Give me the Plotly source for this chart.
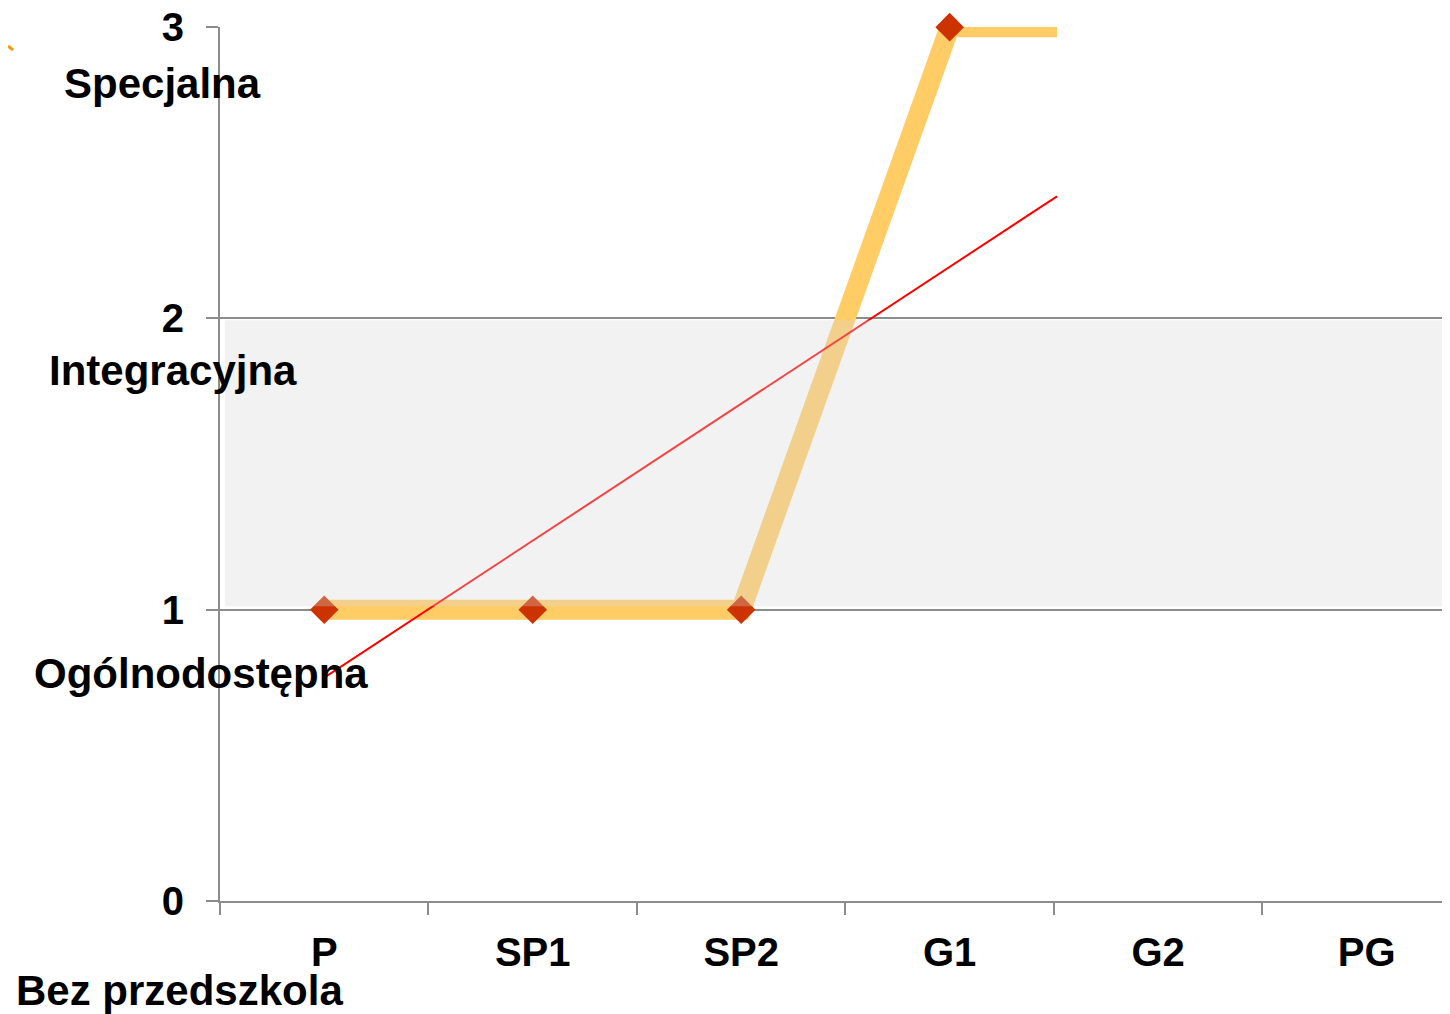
import numpy as np
import plotly.graph_objects as go

# ---- data ----
categories = ["P", "SP1", "SP2", "G1", "G2", "PG"]
levels = [1, 1, 1, 3, 3, None]            # school type level per stage (PG unknown)
level_ticks = [0, 1, 2, 3]
level_names = ["Bez przedszkola", "Ogólnodostępna", "Integracyjna", "Specjalna"]
trend_cats = ["P", "G2"]
trend_vals = [0.767, 2.647]
reveal_until = 3.515                      # series shown up to this category position

# ---- styling ----
GRID = "#8c8c8c"
FONT = "Liberation Sans, Arial, sans-serif"
X_RANGE = [-0.5, 5.4]
Y_RANGE = [0, 3.0005]
PAGE_OFF = 8          # default body margin of the html page
W, H = 1450 - PAGE_OFF, 1014 - PAGE_OFF
L, T, B = 220 - PAGE_OFF, 27 - PAGE_OFF, 1014 - 901
PW, PH = W - L, H - T - B

idx = np.arange(len(categories), dtype=float)
known = [(i, v) for i, v in zip(idx, levels) if v is not None]
kx = np.array([k[0] for k in known])
ky = np.array([k[1] for k in known])

line_x = list(kx[kx <= reveal_until]) + [reveal_until]
line_y = list(ky[kx <= reveal_until]) + [float(np.interp(reveal_until, kx, ky))]

tx = [categories.index(c) for c in trend_cats]
trend_x = [tx[0], reveal_until]
trend_y = [trend_vals[0], float(np.interp(reveal_until, tx, trend_vals))]

mk_x = list(kx[kx <= reveal_until])
mk_y = list(ky[kx <= reveal_until])

fig = go.Figure()
fig.add_trace(go.Scatter(x=line_x, y=line_y, mode="lines",
                         line=dict(color="#FFCC66", width=20), hoverinfo="skip"))
fig.add_trace(go.Scatter(x=trend_x, y=trend_y, mode="lines",
                         line=dict(color="#FF0000", width=2), hoverinfo="skip"))
fig.add_trace(go.Scatter(x=mk_x, y=mk_y, mode="markers", cliponaxis=False,
                         marker=dict(symbol="diamond", size=22, color="#CC3300",
                                     line=dict(width=0))))

fig.update_layout(
    width=W, height=H,
    margin=dict(l=L, r=0, t=T, b=B, autoexpand=False),
    paper_bgcolor="white", plot_bgcolor="white",
    showlegend=False,
    font=dict(family=FONT, color="black"),
)
fig.update_xaxes(
    range=X_RANGE, tickmode="array", tickvals=list(idx), ticktext=categories,
    ticks="", showgrid=False, zeroline=False, automargin=False,
    showline=True, linecolor=GRID, linewidth=2,
    tickfont=dict(family=FONT, size=40, color="black", weight="bold"),
    ticklabelstandoff=15, ticklabeloverflow="allow",
    minor=dict(tickmode="array", tickvals=list(idx - 0.5) + [idx[-1] + 0.5],
               ticks="outside", ticklen=12, tickwidth=2, tickcolor=GRID, showgrid=False),
)
fig.update_yaxes(
    range=Y_RANGE, tickmode="array", tickvals=level_ticks,
    ticktext=[str(t) for t in level_ticks],
    ticks="outside", ticklen=12, tickwidth=2, tickcolor=GRID,
    showgrid=True, gridcolor=GRID, gridwidth=2, zeroline=False, automargin=False,
    showline=True, linecolor=GRID, linewidth=2,
    tickfont=dict(family=FONT, size=40, color="black", weight="bold"),
    ticklabelstandoff=14, ticklabeloverflow="allow",
)

# translucent band between levels 1 and 2 (drawn above series)
fig.add_shape(type="rect", xref="paper", yref="y", x0=0.004, x1=1.0,
              y0=1.012, y1=1.994, layer="above", line=dict(width=0),
              fillcolor="rgba(214,214,214,0.32)")

# level names as text boxes (positions given in page pixels)
label_pos = [(179, 990), (200.5, 673), (172.5, 371), (162, 83)]
for name, (px, py) in zip(level_names, label_pos):
    fig.add_annotation(text=name, xref="paper", yref="paper",
                       x=(px - 220) / PW, y=(901 - py) / PH,
                       xanchor="center", yanchor="middle", showarrow=False,
                       font=dict(family=FONT, size=42, color="black", weight="bold"))

# small orange fragment at the top-left edge
fig.add_shape(type="line", xref="paper", yref="paper",
              x0=(8 - 220) / PW, y0=(901 - 46) / PH,
              x1=(13 - 220) / PW, y1=(901 - 50) / PH,
              line=dict(color="#F39C12", width=3))

fig.write_html("out.html")
